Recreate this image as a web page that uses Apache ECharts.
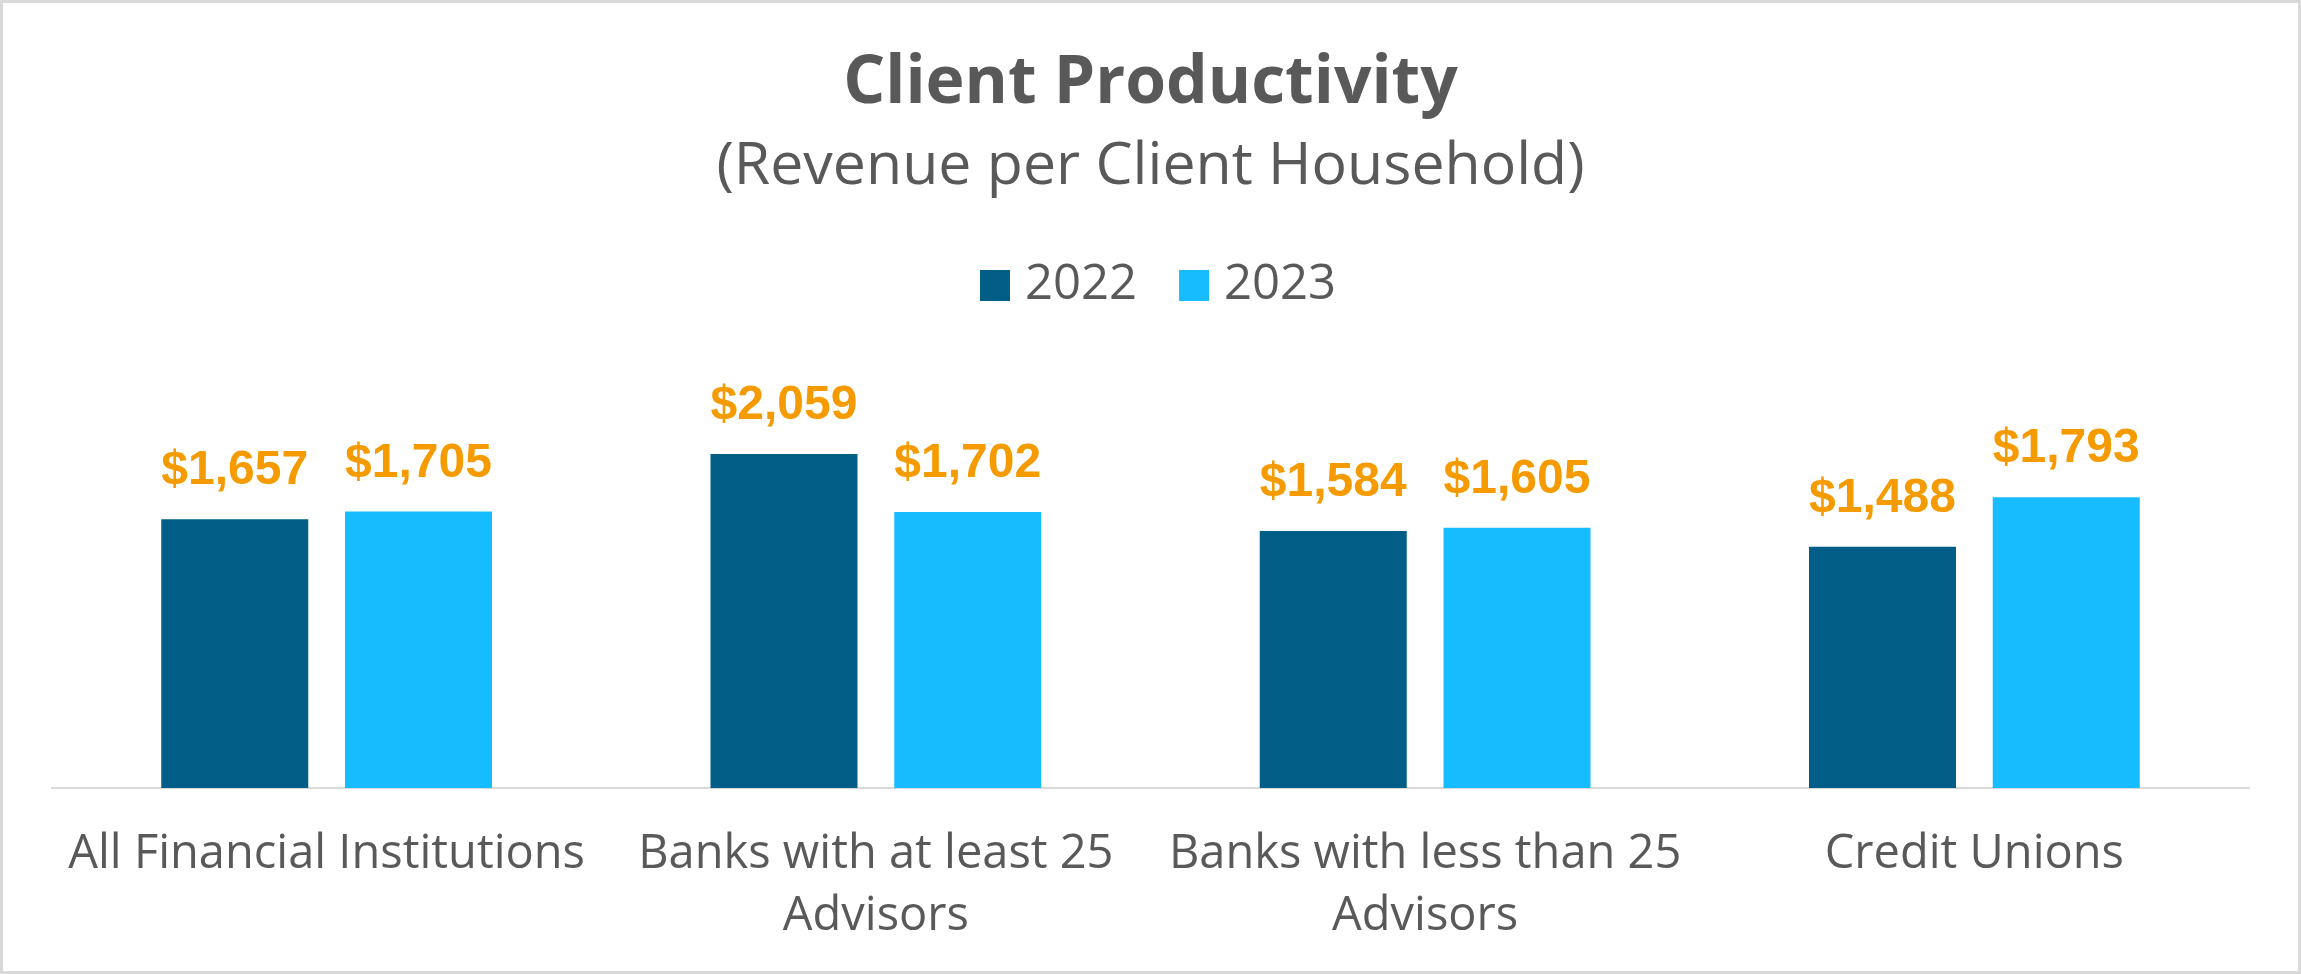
<!DOCTYPE html>
<html>
<head>
<meta charset="utf-8">
<title>Client Productivity</title>
<script src="https://cdn.jsdelivr.net/npm/echarts/dist/echarts.min.js"></script>
<style>
  html, body { margin: 0; padding: 0; background: #fff; }
  #chart { width: 2301px; height: 974px; }
</style>
</head>
<body>
<div id="chart"></div>
<script>
// data
var categories = [
  "All Financial Institutions",
  "Banks with at least 25\nAdvisors",
  "Banks with less than 25\nAdvisors",
  "Credit Unions"
];
var seriesNames = ["2022", "2023"];
var values2022 = [1657, 2059, 1584, 1488];
var values2023 = [1705, 1702, 1605, 1793];

(function() {
  var myChart = echarts.init(document.getElementById("chart"));

  var grey = "#595959";
  var colors = ["#025E86", "#17BCFF"];

  function money(p) {
    return "$" + Number(p.value).toLocaleString("en-US");
  }

  function barSeries(name, data, color) {
    return {
      name: name,
      type: "bar",
      data: data,
      barWidth: 147,
      barGap: "25%",
      itemStyle: { color: color },
      label: {
        show: true,
        position: "top",
        distance: 24,
        formatter: money,
        color: "#F59B00",
        fontFamily: "Liberation Sans",
        fontWeight: "bold",
        fontSize: 48
      }
    };
  }

  var option = {
    backgroundColor: "#fff",
    animation: false,
    color: colors,
    title: [
      {
        text: "Client Productivity",
        left: "center",
        top: 46,
        textStyle: {
          fontFamily: "Open Sans",
          fontWeight: "bold",
          fontSize: 66,
          lineHeight: 66,
          color: grey
        }
      },
      {
        text: "(Revenue per Client Household)",
        left: "center",
        top: 133,
        textStyle: {
          fontFamily: "Open Sans",
          fontWeight: "normal",
          fontSize: 59,
          lineHeight: 59,
          color: grey
        }
      }
    ],
    legend: {
      data: seriesNames,
      left: 975,
      top: 256,
      icon: "rect",
      itemWidth: 30,
      itemHeight: 31,
      itemGap: 42,
      textStyle: {
        fontFamily: "Open Sans",
        fontSize: 49,
        color: grey,
        padding: [0, 0, 0, 10]
      }
    },
    grid: {
      left: 52,
      right: 52,
      top: 382.5,
      bottom: 186,
      containLabel: false
    },
    xAxis: {
      type: "category",
      data: categories,
      axisTick: { show: false },
      axisLine: {
        lineStyle: { color: "#D9D9D9", width: 2 }
      },
      axisLabel: {
        interval: 0,
        margin: 36,
        fontFamily: "Open Sans",
        fontSize: 47,
        lineHeight: 62,
        color: grey
      }
    },
    yAxis: {
      type: "value",
      min: 0,
      max: 2500,
      show: false,
      splitLine: { show: false }
    },
    graphic: [
      {
        type: "rect",
        silent: true,
        shape: { x: 1.5, y: 1.5, width: 2298, height: 971 },
        style: { fill: "none", stroke: "#D9D9D9", lineWidth: 3 }
      }
    ],
    series: [
      barSeries(seriesNames[0], values2022, colors[0]),
      barSeries(seriesNames[1], values2023, colors[1])
    ]
  };

  myChart.setOption(option);
  window.addEventListener("resize", function() {
    myChart.resize();
  });
})();
</script>
</body>
</html>
